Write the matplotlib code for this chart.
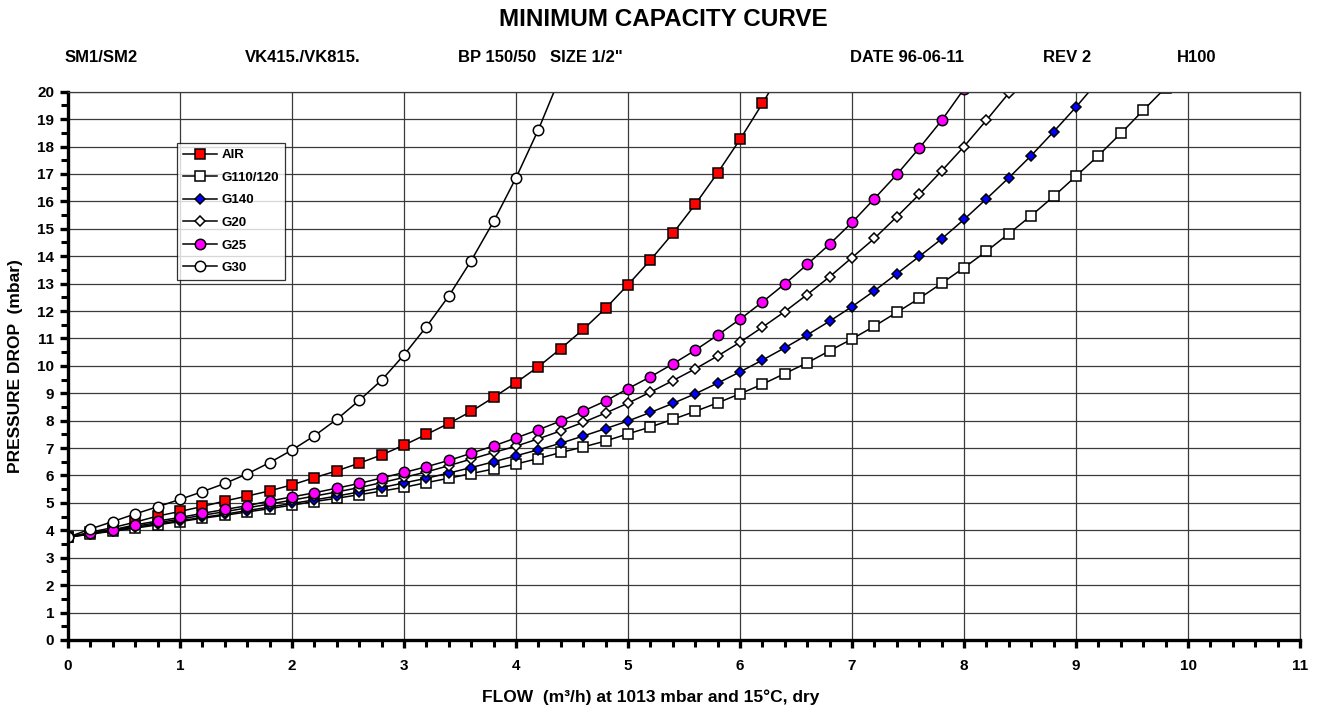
import matplotlib
matplotlib.use("Agg")
import matplotlib.pyplot as plt
from matplotlib.ticker import MultipleLocator

plt.rcParams['font.family'] = ['Liberation Sans', 'DejaVu Sans']
plt.rcParams['font.weight'] = 'bold'

# flow (m3/h), common grid for all series
flow = [0.0, 0.2, 0.4, 0.6, 0.8, 1.0, 1.2, 1.4, 1.6, 1.8,
        2.0, 2.2, 2.4, 2.6, 2.8, 3.0, 3.2, 3.4, 3.6, 3.8,
        4.0, 4.2, 4.4, 4.6, 4.8, 5.0, 5.2, 5.4, 5.6, 5.8,
        6.0, 6.2, 6.4, 6.6, 6.8, 7.0, 7.2, 7.4, 7.6, 7.8,
        8.0, 8.2, 8.4, 8.6, 8.8, 9.0, 9.2, 9.4, 9.6, 9.8]

# pressure drop (mbar)
air = [3.75, 3.93, 4.1, 4.3, 4.52, 4.69, 4.87, 5.07, 5.25, 5.44,
       5.66, 5.92, 6.17, 6.45, 6.75, 7.11, 7.5, 7.9, 8.34, 8.85,
       9.39, 9.97, 10.63, 11.33, 12.1, 12.96, 13.86, 14.83, 15.89, 17.04,
       18.26, 19.57, 20.95]
g110 = [3.75, 3.86, 3.97, 4.08, 4.2, 4.32, 4.44, 4.55, 4.67, 4.79,
        4.92, 5.05, 5.17, 5.3, 5.43, 5.57, 5.74, 5.9, 6.07, 6.24,
        6.42, 6.62, 6.84, 7.04, 7.26, 7.52, 7.77, 8.05, 8.34, 8.65,
        8.98, 9.33, 9.72, 10.11, 10.55, 10.98, 11.45, 11.95, 12.46, 13.01,
        13.58, 14.18, 14.82, 15.48, 16.18, 16.92, 17.67, 18.48, 19.32, 20.15]
g140 = [3.75, 3.87, 3.99, 4.11, 4.23, 4.35, 4.47, 4.59, 4.72, 4.85,
        4.98, 5.11, 5.25, 5.4, 5.56, 5.73, 5.9, 6.09, 6.29, 6.5,
        6.72, 6.94, 7.18, 7.44, 7.71, 7.99, 8.3, 8.63, 8.98, 9.37,
        9.78, 10.21, 10.66, 11.13, 11.63, 12.16, 12.74, 13.36, 13.99, 14.63,
        15.34, 16.09, 16.86, 17.67, 18.54, 19.44, 20.4]
g20 = [3.75, 3.89, 4.01, 4.15, 4.28, 4.41, 4.55, 4.68, 4.82, 4.96,
       5.1, 5.25, 5.4, 5.56, 5.74, 5.93, 6.13, 6.36, 6.6, 6.84,
       7.07, 7.34, 7.63, 7.94, 8.28, 8.64, 9.04, 9.46, 9.89, 10.36,
       10.86, 11.41, 11.98, 12.6, 13.25, 13.95, 14.65, 15.44, 16.25, 17.11,
       18.0, 18.96, 19.95, 20.97]
g25 = [3.75, 3.9, 4.02, 4.2, 4.34, 4.47, 4.62, 4.76, 4.9, 5.07,
       5.22, 5.37, 5.54, 5.71, 5.91, 6.11, 6.32, 6.55, 6.81, 7.08,
       7.37, 7.67, 7.99, 8.35, 8.72, 9.17, 9.6, 10.07, 10.57, 11.12,
       11.7, 12.33, 12.99, 13.7, 14.44, 15.23, 16.1, 16.98, 17.94, 18.95,
       20.1]
g30 = [3.75, 4.05, 4.32, 4.6, 4.86, 5.13, 5.41, 5.71, 6.06, 6.47,
       6.93, 7.45, 8.05, 8.74, 9.48, 10.4, 11.43, 12.55, 13.84, 15.27,
       16.86, 18.62, 20.6]

labels = ['AIR', 'G110/120', 'G140', 'G20', 'G25', 'G30']
header = ['SM1/SM2', 'VK415./VK815.', 'BP 150/50', 'SIZE 1/2"',
          'DATE 96-06-11', 'REV 2', 'H100']

fig = plt.figure(figsize=(13.29, 7.13), dpi=100)
ax = fig.add_axes([0.0512, 0.1024, 0.9270, 0.7690])

styles = [
    dict(marker='s', mfc='#ff0000', ms=7),
    dict(marker='s', mfc='white', ms=7.5),
    dict(marker='D', mfc='#0000ff', ms=5.5),
    dict(marker='D', mfc='white', ms=5.5),
    dict(marker='o', mfc='#ff00ff', ms=7.5),
    dict(marker='o', mfc='white', ms=7.5),
]
series = [air, g110, g140, g20, g25, g30]
for y, lab, st in zip(series, labels, styles):
    ax.plot(flow[:len(y)], y, color='black', lw=1.1, mec='black', mew=1.1,
            label=lab, **st)

ax.set_xlim(0, 11)
ax.set_ylim(0, 20)
ax.xaxis.set_major_locator(MultipleLocator(1))
ax.xaxis.set_minor_locator(MultipleLocator(0.2))
ax.yaxis.set_major_locator(MultipleLocator(1))
ax.yaxis.set_minor_locator(MultipleLocator(0.5))
ax.grid(which='major', color='#3a3a3a', lw=0.9)
ax.set_axisbelow(True)

for s in ['top', 'right']:
    ax.spines[s].set_color('#3a3a3a')
    ax.spines[s].set_linewidth(0.9)
for s in ['left', 'bottom']:
    ax.spines[s].set_linewidth(2.4)

ax.tick_params(which='major', direction='out', length=6, width=2.4,
               labelsize=11, pad=8)
ax.tick_params(which='minor', direction='out', length=5, width=2.2)
ax.tick_params(axis='y', which='major', pad=4)
for t in ax.get_xticklabels() + ax.get_yticklabels():
    t.set_fontweight('bold')

fig.text(651 / 1329, 1 - 697 / 713, 'FLOW  (m³/h) at 1013 mbar and 15°C, dry',
         ha='center', va='center', fontsize=12.5, fontweight='bold')
fig.text(16 / 1329, 1 - 366 / 713, 'PRESSURE DROP  (mbar)', rotation=90,
         ha='center', va='center', fontsize=12.5, fontweight='bold')

leg = ax.legend(loc='upper left', bbox_to_anchor=(0.0885, 0.906),
                borderaxespad=0, fontsize=9.5, frameon=True, fancybox=False,
                handlelength=2.6, labelspacing=0.78, borderpad=0.45,
                handletextpad=0.3)
leg.get_frame().set_edgecolor('black')
leg.get_frame().set_linewidth(0.9)
for t in leg.get_texts():
    t.set_fontweight('bold')

fig.text(663 / 1329, 1 - 20 / 713, 'MINIMUM CAPACITY CURVE', ha='center',
         va='center', fontsize=17.5, fontweight='bold')
hx = [65, 245, 458, 550, 850, 1043, 1177]
for x, txt in zip(hx, header):
    fig.text(x / 1329, 1 - 58 / 713, txt, ha='left', va='center',
             fontsize=12, fontweight='bold')

fig.savefig('out.png', dpi=100)
